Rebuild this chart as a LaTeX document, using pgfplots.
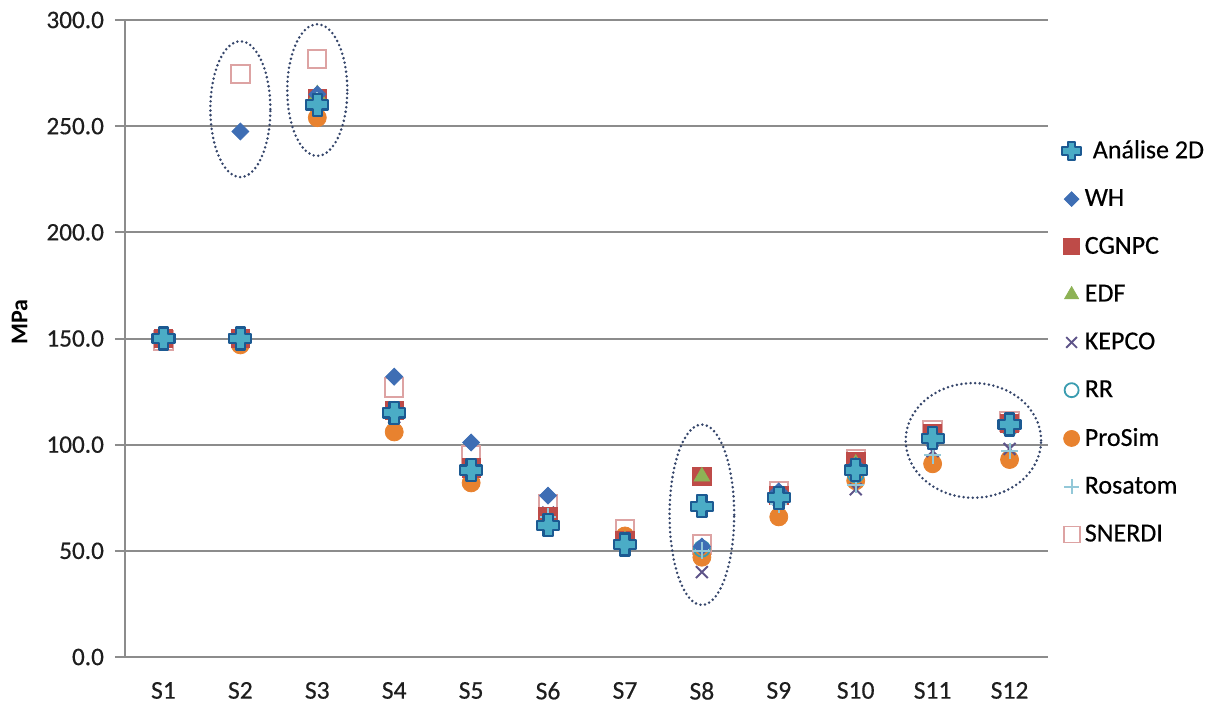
\documentclass[border=0pt]{standalone}
\usepackage{fontspec}
\setmainfont{Carlito}
\newfontfamily\chartfont{Carlito}[FakeBold=0.4]
\usepackage{pgfplots}
\usepackage{pgfplotstable}
\pgfplotsset{compat=1.18}

\definecolor{gridgray}{HTML}{8C8C8C}
\definecolor{ticktext}{HTML}{1E1E1E}
\definecolor{crossfill}{HTML}{4BACC6}
\definecolor{crossdraw}{HTML}{1C5A92}
\definecolor{whcol}{HTML}{3E6EB4}
\definecolor{cgnpccol}{HTML}{BE4B48}
\definecolor{edfcol}{HTML}{8DB255}
\definecolor{kepcocol}{HTML}{5E5489}
\definecolor{rrcol}{HTML}{3A9CB0}
\definecolor{prosimcol}{HTML}{E8822F}
\definecolor{rosatomcol}{HTML}{93C8D8}
\definecolor{snerdicol}{HTML}{DDA3A3}
\definecolor{ringcol}{HTML}{35456A}

% filled plus-shaped marker
\pgfdeclareplotmark{fatplus}{%
  \pgfpathmoveto{\pgfqpoint{-0.42\pgfplotmarksize}{\pgfplotmarksize}}%
  \pgfpathlineto{\pgfqpoint{0.42\pgfplotmarksize}{\pgfplotmarksize}}%
  \pgfpathlineto{\pgfqpoint{0.42\pgfplotmarksize}{0.42\pgfplotmarksize}}%
  \pgfpathlineto{\pgfqpoint{\pgfplotmarksize}{0.42\pgfplotmarksize}}%
  \pgfpathlineto{\pgfqpoint{\pgfplotmarksize}{-0.42\pgfplotmarksize}}%
  \pgfpathlineto{\pgfqpoint{0.42\pgfplotmarksize}{-0.42\pgfplotmarksize}}%
  \pgfpathlineto{\pgfqpoint{0.42\pgfplotmarksize}{-\pgfplotmarksize}}%
  \pgfpathlineto{\pgfqpoint{-0.42\pgfplotmarksize}{-\pgfplotmarksize}}%
  \pgfpathlineto{\pgfqpoint{-0.42\pgfplotmarksize}{-0.42\pgfplotmarksize}}%
  \pgfpathlineto{\pgfqpoint{-\pgfplotmarksize}{-0.42\pgfplotmarksize}}%
  \pgfpathlineto{\pgfqpoint{-\pgfplotmarksize}{0.42\pgfplotmarksize}}%
  \pgfpathlineto{\pgfqpoint{-0.42\pgfplotmarksize}{0.42\pgfplotmarksize}}%
  \pgfpathclose
  \pgfusepathqfillstroke}

% stress per case (MPa)
\pgfplotstableread{
x  analise  wh     cgnpc  edf   kepco  rr    prosim  rosatom  snerdi
1  150      150    150    150   150    150   149     150      149
2  150      247.5  150    150   150    150   147     150      274.5
3  260      265    263    265   262    261   254     262      281.5
4  115      132    116    116   113    115   106     114      127
5  88       101    89     89    87     88    82      87       95
6  62       76     66     64    68     66    64      66       72
7  53       54     55     55    54     55    57      55       60
8  71       52     85     85    40     51    47      50       53
9  75       78     76     76    74     75    66      72       78
10 88       90     92     91    79     86    83      81       93
11 103      104    105    104   97     103   91      95       107
12 109.5    110    110    110   98     108   93      97       111
}\stress

\tikzset{ring/.style={draw=ringcol, line width=1.4pt, line cap=round, dash pattern=on 0pt off 2.3pt}}

\begin{document}
\begin{tikzpicture}
\begin{axis}[
  name=main,
  scale only axis, width=461.5pt, height=318.5pt,
  xmin=0.5, xmax=12.5, ymin=0, ymax=300,
  xtick={1,2,3,4,5,6,7,8,9,10,11,12},
  xticklabels={S1,S2,S3,S4,S5,S6,S7,S8,S9,S10,S11,S12},
  ytick={0,50,100,150,200,250,300},
  axis x line=bottom, axis y line=left,
  axis line style={-, draw=gridgray, line width=1pt},
  ymajorgrids, grid style={draw=gridgray, line width=1pt},
  tick align=outside, major tick length=5pt,
  xtick style={draw=none},
  ytick style={draw=gridgray, line width=1pt},
  yticklabel style={font=\chartfont\fontsize{12.6}{15}\selectfont, text=ticktext,
    /pgf/number format/fixed, /pgf/number format/fixed zerofill,
    /pgf/number format/precision=1, /pgf/number format/assume math mode=true},
  xticklabel style={font=\chartfont\fontsize{12.8}{15}\selectfont, text=ticktext},
  yticklabel shift=2pt,
  xticklabel shift=4pt,
  ylabel={MPa},
  ylabel style={at={(axis description cs:-0.114,0.526)}, anchor=center, rotate=0, font=\fontsize{12}{14}\selectfont\bfseries, text=black},
  clip=false,
  legend style={at={(1.0,0.494)}, anchor=west, xshift=5pt, draw=none, fill=none,
    font=\chartfont\fontsize{13}{15.6}\selectfont, row sep=10pt, inner xsep=2pt},
  legend cell align=left,
  legend image code/.code={\draw[mark repeat=2, mark phase=2, #1] plot coordinates {(0cm,0cm) (0.17cm,0cm) (0.34cm,0cm)};},
]
% legend entries
\addlegendimage{only marks, mark=fatplus, mark size=4.6pt, mark options={fill=crossfill, draw=crossdraw, line width=1pt, line join=round}}
\addlegendentry{\hspace{4pt}Análise 2D}
\addlegendimage{only marks, mark=square*, mark size=2.6pt, mark options={rotate=45, fill=whcol, draw=whcol}}
\addlegendentry{WH}
\addlegendimage{only marks, mark=square*, mark size=4pt, mark options={fill=cgnpccol, draw=cgnpccol}}
\addlegendentry{CGNPC}
\addlegendimage{only marks, mark=triangle*, mark size=4pt, mark options={fill=edfcol, draw=edfcol}}
\addlegendentry{EDF}
\addlegendimage{only marks, mark=x, mark size=3.8pt, mark options={draw=kepcocol, line width=0.9pt}}
\addlegendentry{KEPCO}
\addlegendimage{only marks, mark=o, mark size=3.5pt, mark options={draw=rrcol, line width=0.9pt}}
\addlegendentry{RR}
\addlegendimage{only marks, mark=*, mark size=4pt, mark options={fill=prosimcol, draw=prosimcol}}
\addlegendentry{ProSim}
\addlegendimage{only marks, mark=+, mark size=3.8pt, mark options={draw=rosatomcol, line width=0.9pt}}
\addlegendentry{Rosatom}
\addlegendimage{only marks, mark=square, mark size=4pt, mark options={draw=snerdicol, line width=0.9pt}}
\addlegendentry{SNERDI}

% data series
\addplot[forget plot, only marks, mark=square, mark size=4.6pt, mark options={draw=snerdicol, line width=1pt}] table[x=x, y=snerdi] {\stress};
\addplot[forget plot, only marks, mark=*, mark size=4.5pt, mark options={fill=prosimcol, draw=prosimcol}] table[x=x, y=prosim] {\stress};
\addplot[forget plot, only marks, mark=o, mark size=4pt, mark options={draw=rrcol, line width=0.9pt}] table[x=x, y=rr] {\stress};
\addplot[forget plot, only marks, mark=x, mark size=4.2pt, mark options={draw=kepcocol, line width=1pt}] table[x=x, y=kepco] {\stress};
\addplot[forget plot, only marks, mark=square*, mark size=4.6pt, mark options={fill=cgnpccol, draw=cgnpccol}] table[x=x, y=cgnpc] {\stress};
\addplot[forget plot, only marks, mark=triangle*, mark size=4.5pt, mark options={fill=edfcol, draw=edfcol}] table[x=x, y=edf] {\stress};
\addplot[forget plot, only marks, mark=square*, mark size=3pt, mark options={rotate=45, fill=whcol, draw=whcol}] table[x=x, y=wh] {\stress};
\addplot[forget plot, only marks, mark=+, mark size=4.2pt, mark options={draw=rosatomcol, line width=1pt}] table[x=x, y=rosatom] {\stress};
\addplot[forget plot, only marks, mark=fatplus, mark size=5.5pt, mark options={fill=crossfill, draw=crossdraw, line width=1.1pt, line join=round}] table[x=x, y=analise] {\stress};

% dotted rings around the cases of interest
\draw[ring] (axis cs:2,258) ellipse [x radius=0.39, y radius=32];
\draw[ring] (axis cs:3,267) ellipse [x radius=0.39, y radius=31];
\draw[ring] (axis cs:8,67) ellipse [x radius=0.42, y radius=42.5];
\draw[ring] (axis cs:11.53,102) ellipse [x radius=0.88, y radius=27];
\end{axis}
\pgfresetboundingbox
\path[use as bounding box] ([xshift=-62.5pt,yshift=-24.5pt]main.south west) rectangle ([xshift=87.5pt,yshift=10pt]main.north east);
\end{tikzpicture}
\end{document}
